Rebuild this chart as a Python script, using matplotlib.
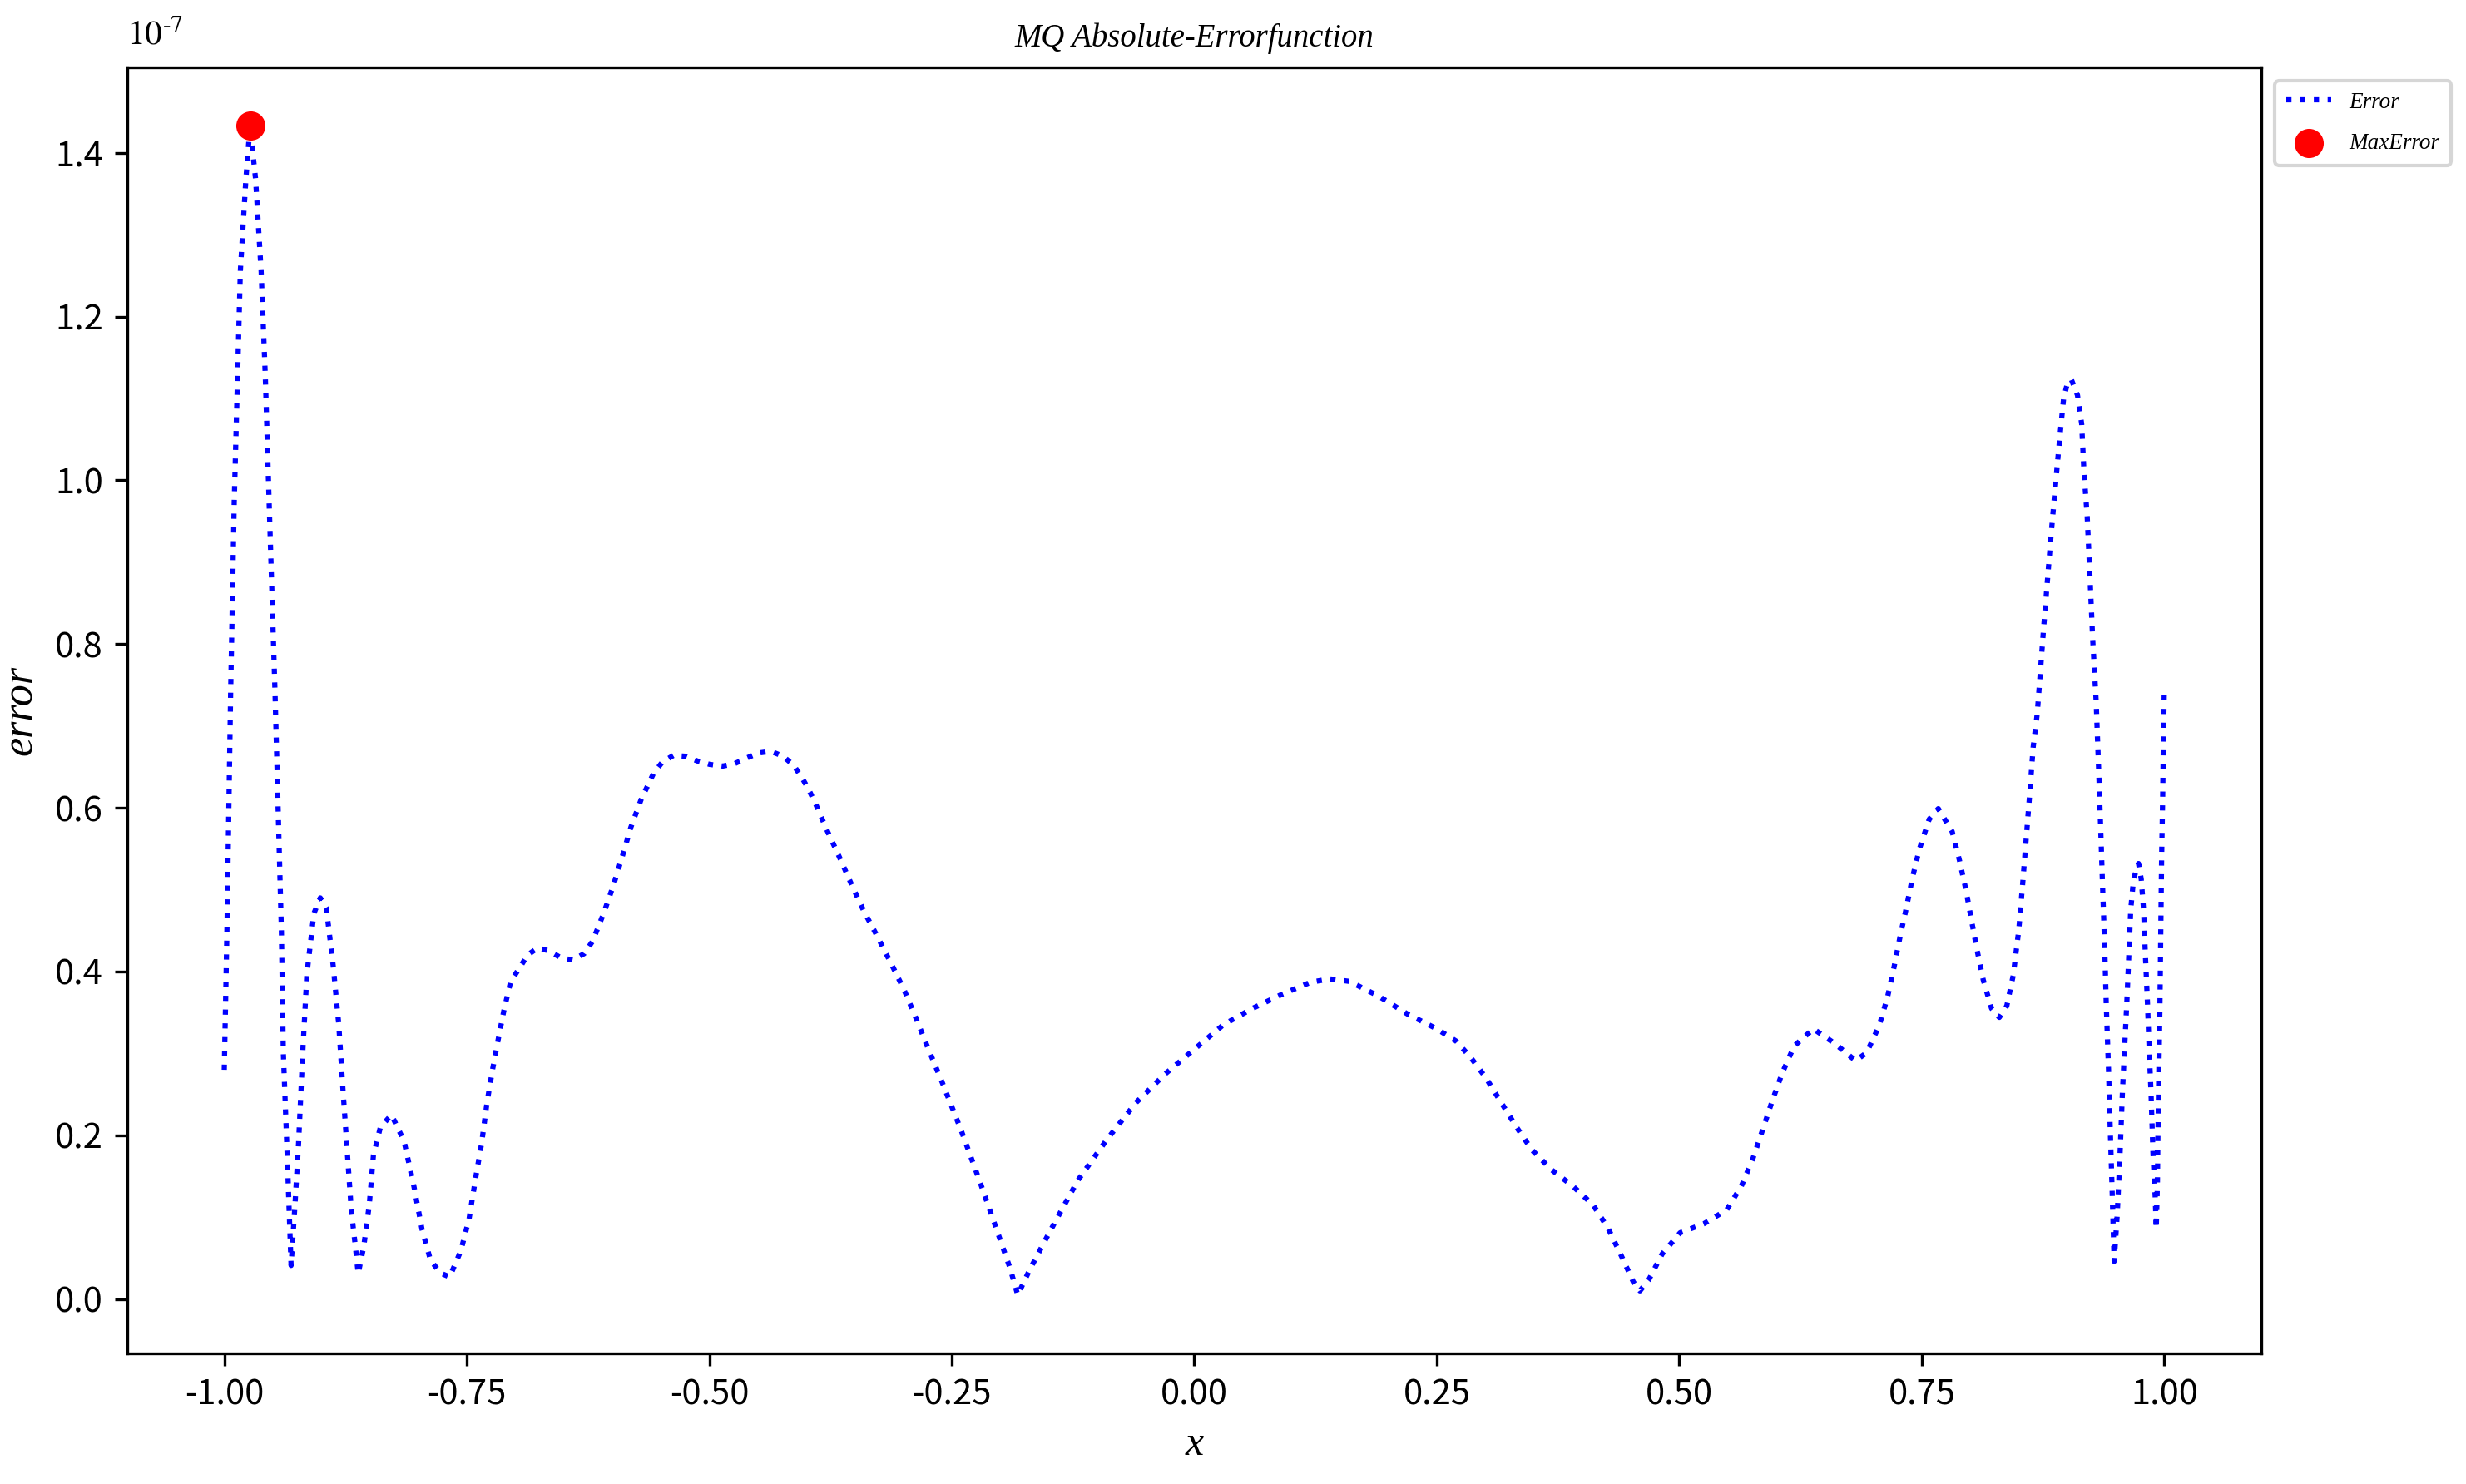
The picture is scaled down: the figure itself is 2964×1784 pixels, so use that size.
import numpy as np
import matplotlib
matplotlib.use("Agg")
import matplotlib.pyplot as plt

plt.rcParams["font.family"] = ["Noto Sans CJK SC", "DejaVu Sans"]
plt.rcParams["axes.unicode_minus"] = False
plt.rcParams["mathtext.fontset"] = "stix"

# absolute error of the MQ interpolant, in units of 1e-7
x = [-1.0000, -0.9985, -0.9971, -0.9934, -0.9897, -0.9834, -0.9777, -0.9734,
     -0.9677, -0.9620, -0.9577, -0.9534, -0.9477, -0.9411, -0.9391, -0.9348,
     -0.9311, -0.9271, -0.9234, -0.9191, -0.9148, -0.9076, -0.9010, -0.8948,
     -0.8877, -0.8820, -0.8777, -0.8734, -0.8690, -0.8648, -0.8619, -0.8562,
     -0.8505, -0.8462, -0.8390, -0.8276, -0.8147, -0.8047, -0.7961, -0.7875,
     -0.7775, -0.7676, -0.7561, -0.7476, -0.7404, -0.7347, -0.7290, -0.7233,
     -0.7176, -0.7118, -0.7047, -0.6947, -0.6875, -0.6767, -0.6647, -0.6533,
     -0.6404, -0.6289, -0.6203, -0.6089, -0.5989, -0.5898, -0.5809, -0.5703,
     -0.5575, -0.5483, -0.5369, -0.5246, -0.5118, -0.4994, -0.4860, -0.4737,
     -0.4612, -0.4488, -0.4365, -0.4239, -0.4131, -0.4045, -0.3974, -0.3908,
     -0.3788, -0.3659, -0.3536, -0.3407, -0.3268, -0.3130, -0.2993, -0.2879,
     -0.2764, -0.2600, -0.2400, -0.2200, -0.2000, -0.1900, -0.1820, -0.1700,
     -0.1500, -0.1200, -0.0900, -0.0600, -0.0300, 0.0000, 0.0300, 0.0600,
     0.0900, 0.1200, 0.1400, 0.1600, 0.1900, 0.2200, 0.2500, 0.2700,
     0.2850, 0.3002, 0.3159, 0.3316, 0.3482, 0.3682, 0.3902, 0.4111,
     0.4268, 0.4402, 0.4526, 0.4594, 0.4683, 0.4823, 0.5009, 0.5254,
     0.5489, 0.5640, 0.5760, 0.5860, 0.5955, 0.6061, 0.6184, 0.6383,
     0.6604, 0.6818, 0.6932, 0.7061, 0.7147, 0.7213, 0.7275, 0.7341,
     0.7404, 0.7476, 0.7576, 0.7670, 0.7813, 0.7890, 0.7956, 0.8013,
     0.8070, 0.8133, 0.8219, 0.8299, 0.8376, 0.8442, 0.8499, 0.8539,
     0.8576, 0.8613, 0.8648, 0.8690, 0.8756, 0.8797, 0.8834, 0.8877,
     0.8919, 0.8962, 0.9000, 0.9042, 0.9105, 0.9148, 0.9171, 0.9205,
     0.9234, 0.9262, 0.9297, 0.9320, 0.9342, 0.9363, 0.9385, 0.9402,
     0.9425, 0.9443, 0.9462, 0.9483, 0.9514, 0.9543, 0.9568, 0.9591,
     0.9614, 0.9634, 0.9654, 0.9683, 0.9734, 0.9762, 0.9786, 0.9805,
     0.9826, 0.9843, 0.9863, 0.9883, 0.9906, 0.9917, 0.9929, 0.9934,
     0.9943, 0.9954, 0.9963, 0.9972, 0.9983, 0.9991, 1.0000]
err = [0.280, 0.370, 0.460, 0.742, 0.975, 1.256, 1.368, 1.433,
       1.368, 1.256, 1.128, 0.960, 0.742, 0.450, 0.301, 0.166,
       0.041, 0.115, 0.190, 0.301, 0.397, 0.471, 0.490, 0.478,
       0.407, 0.336, 0.257, 0.183, 0.108, 0.064, 0.031, 0.064,
       0.115, 0.176, 0.210, 0.225, 0.193, 0.139, 0.085, 0.048,
       0.032, 0.027, 0.059, 0.098, 0.151, 0.190, 0.241, 0.281,
       0.317, 0.352, 0.388, 0.406, 0.420, 0.429, 0.425, 0.417,
       0.414, 0.422, 0.437, 0.471, 0.505, 0.540, 0.576, 0.610,
       0.642, 0.656, 0.664, 0.663, 0.657, 0.653, 0.651, 0.654,
       0.661, 0.667, 0.669, 0.663, 0.652, 0.637, 0.622, 0.606,
       0.573, 0.540, 0.507, 0.474, 0.443, 0.411, 0.378, 0.346,
       0.312, 0.265, 0.205, 0.140, 0.072, 0.038, 0.005, 0.035,
       0.080, 0.145, 0.195, 0.240, 0.275, 0.305, 0.335, 0.355,
       0.372, 0.387, 0.391, 0.388, 0.370, 0.348, 0.330, 0.315,
       0.295, 0.271, 0.241, 0.211, 0.182, 0.158, 0.138, 0.115,
       0.086, 0.053, 0.021, 0.010, 0.023, 0.055, 0.081, 0.092,
       0.109, 0.138, 0.172, 0.207, 0.241, 0.276, 0.309, 0.330,
       0.312, 0.291, 0.301, 0.334, 0.369, 0.405, 0.442, 0.478,
       0.515, 0.550, 0.586, 0.599, 0.571, 0.535, 0.499, 0.462,
       0.426, 0.390, 0.355, 0.344, 0.358, 0.395, 0.450, 0.506,
       0.562, 0.618, 0.674, 0.715, 0.820, 0.880, 0.935, 0.993,
       1.048, 1.100, 1.118, 1.123, 1.104, 1.069, 1.012, 0.956,
       0.881, 0.805, 0.731, 0.657, 0.582, 0.506, 0.432, 0.358,
       0.280, 0.206, 0.133, 0.046, 0.102, 0.175, 0.252, 0.308,
       0.363, 0.420, 0.476, 0.513, 0.532, 0.513, 0.476, 0.420,
       0.363, 0.308, 0.252, 0.179, 0.125, 0.086, 0.142, 0.199,
       0.276, 0.350, 0.443, 0.537, 0.612, 0.687, 0.743]

x = np.array(x)
err = np.array(err)
imax = np.argmax(err)

fig = plt.figure(figsize=(2964 / 300, 1784 / 300), dpi=300)
ax = fig.add_axes([0.0516, 0.0880, 0.8654, 0.8666])

ax.plot(x, err, "b:", linewidth=1.5, label="Error")
ax.scatter(x[imax], err[imax], color="red", s=55, zorder=3, label="MaxError")

serif_it = dict(family="Liberation Serif", style="italic")
ax.set_title("MQ Absolute-Errorfunction", fontsize=9.3, **serif_it)
ax.set_xlabel("x", fontsize=12, **serif_it)
ax.set_ylabel("error", fontsize=12.5, **serif_it)
ax.text(0.0, 1.012, r"$10^{\text{-7}}$", transform=ax.transAxes, fontsize=10,
        ha="left", va="bottom")

ax.tick_params(labelsize=10)
ax.legend(loc="upper left", bbox_to_anchor=(1, 1), labelspacing=0.9,
          borderpad=0.5, borderaxespad=0.6,
          prop=dict(family="Liberation Serif", style="italic", size=6.5))

fig.savefig("out.png", dpi=300)
